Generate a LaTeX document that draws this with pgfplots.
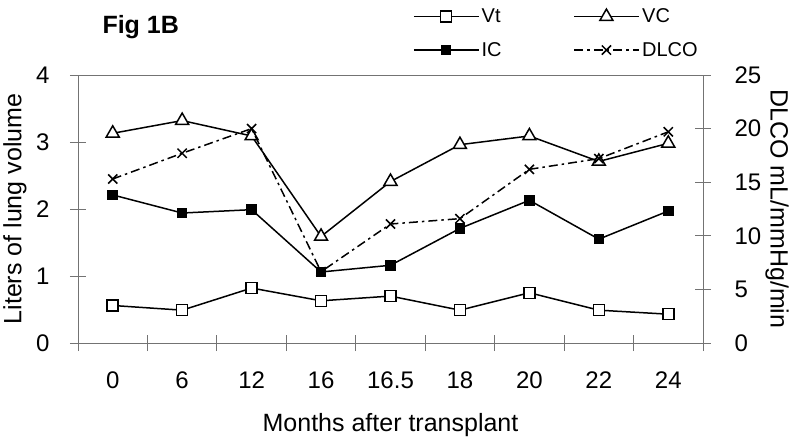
\documentclass[border=0pt]{standalone}
\usepackage{pgfplots}
\pgfplotsset{compat=1.18}
\usepackage{fontspec}
\setmainfont{Liberation Sans}
\begin{document}
\begin{tikzpicture}
\useasboundingbox (-78bp,-95bp) rectangle (722bp,343bp);
\pgfplotsset{
  common/.style={
    scale only axis, width=625bp, height=268bp, at={(0bp,0bp)}, anchor=south west,
    xmin=-0.5, xmax=8.5,
    font=\fontsize{24bp}{28bp}\selectfont,
    /pgf/number format/assume math mode=true,
    tick align=center, major tick length=16bp, minor tick length=16bp,
    axis line style={black!55, line width=0.8bp},
    every tick/.style={black!55, line width=0.8bp},
    clip=false,
  },
  legend image code/.code={\draw[mark repeat=2,mark phase=2,#1] plot coordinates {(0bp,0bp) (32bp,0bp) (65bp,0bp)};},
}
\begin{axis}[common,
  xtick={0,...,8}, xticklabels={0,6,12,16,16.5,18,20,22,24},
  major x tick style={draw=none},
  minor xtick={-0.5,0.5,...,8.5},
  ymin=0, ymax=4, ytick={0,...,4},
  ytick pos=left, xtick pos=bottom,
  xticklabel style={anchor=center, yshift=-29bp},
  yticklabel style={anchor=east, xshift=-17bp},
  xlabel={Months after transplant}, ylabel={Liters of lung volume},
  label style={font=\fontsize{25bp}{29bp}\selectfont},
  xlabel style={at={(axis description cs:0.5,0)}, anchor=center, yshift=-82bp},
  ylabel style={at={(axis description cs:0,0.5)}, anchor=center, yshift=63bp},
  legend columns=2,
  legend cell align=left,
  legend style={at={(axis description cs:0.536,1.255)}, anchor=north west, draw=none, fill=none, inner sep=0pt, row sep=14bp, font=\fontsize{20bp}{23bp}\selectfont},
]
\addplot[black, line width=1.5bp, mark=square*, mark size=5.5bp, mark options={fill=white}] coordinates {
(0,0.56) (1,0.49) (2,0.82) (3,0.63) (4,0.70) (5,0.49) (6,0.75) (7,0.49) (8,0.43)};
\addlegendentry{\makebox[90bp][l]{Vt}}
\addplot[black, line width=1.5bp, mark=triangle*, mark size=7.5bp, mark options={fill=white}] coordinates {
(0,3.13) (1,3.32) (2,3.09) (3,1.59) (4,2.41) (5,2.96) (6,3.09) (7,2.71) (8,2.98)};
\addlegendentry{VC}
\addplot[black, line width=1.5bp, mark=square*, mark size=4.5bp, mark options={fill=black}] coordinates {
(0,2.21) (1,1.94) (2,1.99) (3,1.06) (4,1.16) (5,1.71) (6,2.13) (7,1.55) (8,1.97)};
\addlegendentry{\makebox[90bp][l]{IC}}
\addlegendimage{black, line width=1.5bp, dash pattern=on 9bp off 4bp on 2.5bp off 4bp, mark=x, mark size=6.5bp, mark options={solid}}
\addlegendentry{DLCO}
\node[font=\fontsize{25bp}{29bp}\selectfont\bfseries, anchor=west] at (axis cs:-0.5,4) [xshift=21bp, yshift=48bp] {Fig 1B};
\end{axis}
\begin{axis}[common,
  axis x line=none, axis y line*=right,
  ymin=0, ymax=25, ytick={0,5,...,25},
  yticklabel style={anchor=west, xshift=20bp},
  ylabel={DLCO mL/mmHg/min},
  label style={font=\fontsize{25bp}{29bp}\selectfont},
  ylabel style={at={(axis description cs:1,0.5)}, anchor=center, rotate=180, yshift=74bp},
]
\addplot[black, line width=1.5bp, dash pattern=on 9bp off 4bp on 2.5bp off 4bp, mark=x, mark size=6.5bp, mark options={solid}] coordinates {
(0,15.3) (1,17.7) (2,20.0) (3,6.65) (4,11.1) (5,11.6) (6,16.2) (7,17.2) (8,19.7)};
\end{axis}
\end{tikzpicture}
\end{document}
